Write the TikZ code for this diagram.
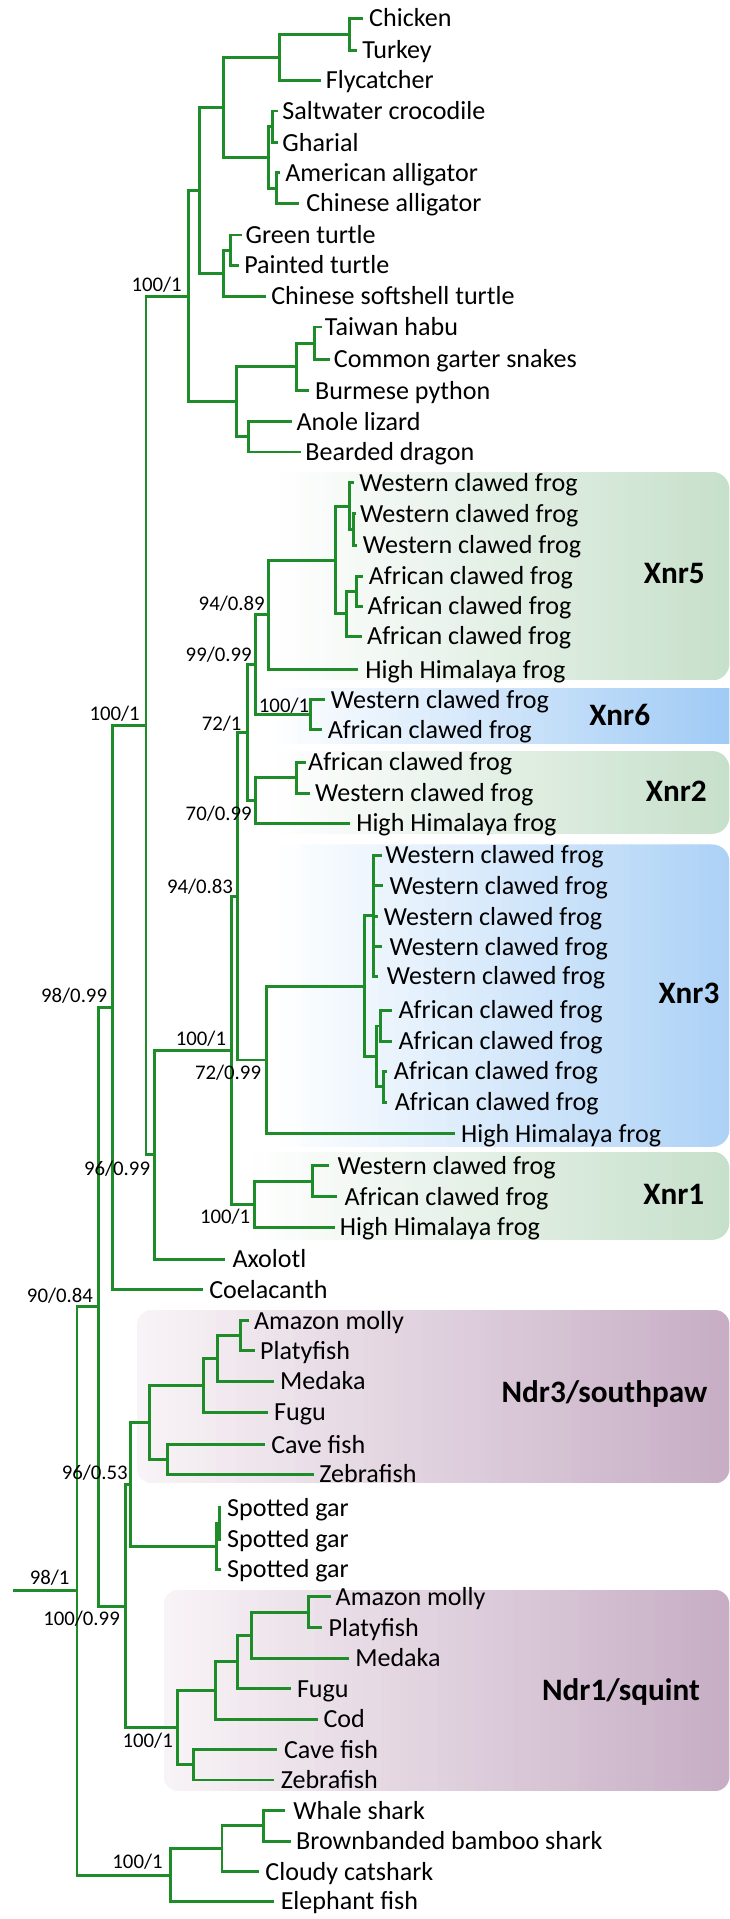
\documentclass[tikz,border=0pt]{standalone}
\usepackage{fontspec}
\setmainfont{Carlito}
\definecolor{brgreen}{RGB}{30,140,40}
\definecolor{boxgreen}{RGB}{199,224,203}
\definecolor{boxblueA}{RGB}{160,203,245}
\definecolor{boxblueB}{RGB}{173,210,246}
\definecolor{boxpurL}{RGB}{248,243,246}
\definecolor{boxpurR}{RGB}{199,174,197}
\newcommand\leafat[5]{\coordinate (#1) at (#2,#3); \node[leaftext] (#1t) at ({#4-0.8},{#3+6.9}) {#5};}
\newcommand\gradbox[7]{%
  \begin{scope}
  \clip[#7] (#1,#2) rectangle (#3,#4);
  \pgfmathsetmacro\stripw{(#3-#1)/60}%
  \foreach \i in {0,...,59}{%
    \pgfmathtruncatemacro\pct{round(100*\i/59)}%
    \fill[#6!\pct!#5] ({#1+\stripw*\i},#2) rectangle ({#1+\stripw*(\i+1)+0.9},#4);
  }
  \end{scope}}
\begin{document}
\begin{tikzpicture}[x=1pt,y=-1pt,
  br/.style={draw=brgreen,line width=2.4pt},
  leaftext/.style={anchor=base west,inner sep=0pt,font=\fontsize{21.3}{25}\selectfont},
  suplab/.style={anchor=base east,inner sep=0pt,font=\fontsize{17}{20}\selectfont},
  cladelab/.style={anchor=base east,inner sep=0pt,font=\fontsize{25.5}{30}\selectfont\bfseries}]
\useasboundingbox (0,0) rectangle (596,1568);
% clade boxes
\gradbox{222}{385.6}{596}{556}{white}{boxgreen}{rounded corners=14pt}
\gradbox{218}{562}{596}{608}{white}{boxblueA}{sharp corners}
\gradbox{218}{613.7}{596}{681.3}{white}{boxgreen}{rounded corners=14pt}
\gradbox{222}{690}{596}{937}{white}{boxblueB}{rounded corners=14pt}
\gradbox{200}{941}{596}{1013}{white}{boxgreen}{rounded corners=14pt}
\gradbox{112}{1070.4}{596}{1212}{boxpurL}{boxpurR}{rounded corners=12pt}
\gradbox{133.8}{1299}{596}{1463.5}{boxpurL}{boxpurR}{rounded corners=12pt}
% leaves
\leafat{l1}{296.6}{15.0}{302.3}{Chicken}
\leafat{l2}{291.7}{40.9}{296.6}{Turkey}
\leafat{l3}{262.3}{65.4}{266.9}{Flycatcher}
\leafat{l4}{226.8}{90.7}{231.4}{Saltwater crocodile}
\leafat{l5}{226.8}{116.5}{231.4}{Gharial}
\leafat{l6}{228.7}{141.2}{233.7}{American alligator}
\leafat{l7}{244}{166.2}{250.9}{Chinese alligator}
\leafat{l8}{197.5}{192}{201.3}{Green turtle}
\leafat{l9}{195.2}{216.8}{200.2}{Painted turtle}
\leafat{l10}{217.3}{242}{222.3}{Chinese softshell turtle}
\leafat{l11}{263}{267.2}{266.1}{Taiwan habu}
\leafat{l12}{270}{293.5}{273.4}{Common garter snakes}
\leafat{l13}{252.8}{319.2}{258.1}{Burmese python}
\leafat{l14}{238.3}{344.6}{242.9}{Anole lizard}
\leafat{l15}{245.9}{369.3}{250.1}{Bearded dragon}
\leafat{l16}{289.4}{394.6}{294.3}{Western clawed frog}
\leafat{l17}{291}{419.7}{294.9}{Western clawed frog}
\leafat{l18}{292}{445.5}{297.1}{Western clawed frog}
\leafat{l19}{296.5}{470.9}{302.0}{African clawed frog}
\leafat{l20}{296.5}{495.4}{300.9}{African clawed frog}
\leafat{l21}{295.7}{520}{300.6}{African clawed frog}
\leafat{l22}{292.9}{547.2}{299.2}{High Himalaya frog}
\leafat{l23}{265.4}{571.7}{270.9}{Western clawed frog}
\leafat{l24}{262.7}{596.2}{268.4}{African clawed frog}
\leafat{l25}{249.7}{622.7}{252.4}{African clawed frog}
\leafat{l26}{253.5}{648}{258.1}{Western clawed frog}
\leafat{l27}{285.9}{672.6}{291.7}{High Himalaya frog}
\leafat{l28}{312}{699}{315.5}{Western clawed frog}
\leafat{l29}{313}{723.6}{319}{Western clawed frog}
\leafat{l30}{309}{749}{314.3}{Western clawed frog}
\leafat{l31}{312}{773.5}{319}{Western clawed frog}
\leafat{l32}{309}{797.5}{316.7}{Western clawed frog}
\leafat{l33}{320.2}{825.7}{326.3}{African clawed frog}
\leafat{l34}{320.2}{851}{326.3}{African clawed frog}
\leafat{l35}{316}{875.5}{322.5}{African clawed frog}
\leafat{l36}{316}{900.6}{323.2}{African clawed frog}
\leafat{l37}{371.7}{926.5}{377.4}{High Himalaya frog}
\leafat{l38}{268.8}{952.4}{276.4}{Western clawed frog}
\leafat{l39}{275.3}{977.8}{282.1}{African clawed frog}
\leafat{l40}{273.7}{1002.6}{278.3}{High Himalaya frog}
\leafat{l41}{184.1}{1029}{190.6}{Axolotl}
\leafat{l42}{165.8}{1054}{171.6}{Coelacanth}
\leafat{l43}{203.2}{1079.1}{208.2}{Amazon molly}
\leafat{l44}{208.2}{1103.7}{213.1}{Platyfish}
\leafat{l45}{223.9}{1128.8}{229.5}{Medaka}
\leafat{l46}{219}{1154.1}{224.6}{Fugu}
\leafat{l47}{216.4}{1180.5}{222.3}{Cave fish}
\leafat{l48}{256.7}{1204.5}{261.6}{Zebrafish}
\leafat{l49}{180.3}{1231.8}{186.2}{Spotted gar}
\leafat{l50}{180.3}{1257.7}{186.2}{Spotted gar}
\leafat{l51}{180.3}{1282.2}{186.2}{Spotted gar}
\leafat{l52}{270.7}{1304.7}{274.9}{Amazon molly}
\leafat{l53}{263.5}{1329.9}{269.2}{Platyfish}
\leafat{l54}{285.2}{1354.9}{290.9}{Medaka}
\leafat{l55}{237.6}{1379.8}{243.3}{Fugu}
\leafat{l56}{259.7}{1404.8}{265}{Cod}
\leafat{l57}{226.2}{1429.7}{232.7}{Cave fish}
\leafat{l58}{223.6}{1454.4}{230}{Zebrafish}
\leafat{l59}{232.7}{1479.6}{240.3}{Whale shark}
\leafat{l60}{237.6}{1504.3}{242.6}{Brownbanded bamboo shark}
\leafat{l61}{211.8}{1529.5}{217.5}{Cloudy catshark}
\leafat{l62}{223.6}{1553.6}{230}{Elephant fish}
% internal nodes
\coordinate (nCT) at (285.2,27.95);
\coordinate (nBird) at (228,46.7);
\coordinate (nSG) at (222.3,103.6);
\coordinate (nAlli) at (225.7,153.7);
\coordinate (nCroc) at (219.2,128.65);
\coordinate (nArch) at (183,87.7);
\coordinate (nGP) at (188.7,204.4);
\coordinate (nTurt) at (183,223.2);
\coordinate (nArchelo) at (163.2,155.45);
\coordinate (nTC) at (256.6,280.35);
\coordinate (nSnake) at (242.1,299.8);
\coordinate (nAB) at (202.8,356.95);
\coordinate (nSquam) at (193.3,328.4);
\coordinate (nSaur) at (154.4,241.9);
\coordinate (nW23) at (288.9,432.6);
\coordinate (nW5) at (285.6,413.65);
\coordinate (nA12) at (291.6,483.15);
\coordinate (nA5) at (282.9,501.6);
\coordinate (nX5) at (273.9,457.6);
\coordinate (n9489) at (219.4,502.4);
\coordinate (nX6) at (254,583.95);
\coordinate (n9999) at (209,543.2);
\coordinate (nAW2) at (242.1,635.35);
\coordinate (nX2) at (208.9,654);
\coordinate (n721) at (202.1,598.6);
\coordinate (nW3) at (305.2,748.25);
\coordinate (nA12b) at (310.7,838.35);
\coordinate (nA34) at (313.4,888.05);
\coordinate (nA3) at (307.4,863.2);
\coordinate (nX3x) at (297.6,805.7);
\coordinate (nX3) at (218,866.1);
\coordinate (n9483) at (194.4,732.35);
\coordinate (nWA1) at (255.4,965.1);
\coordinate (nX1) at (207.8,983.85);
\coordinate (nAnura) at (189.5,858.1);
\coordinate (nAmph) at (126.6,943.55);
\coordinate (nTetra) at (119.3,592.7);
\coordinate (nSarco) at (92.3,823.35);
\coordinate (nAP3) at (196.7,1091.4);
\coordinate (nAPM3) at (178,1110.1);
\coordinate (nAPMF3) at (166.5,1132.1);
\coordinate (nCZ3) at (137,1192.5);
\coordinate (nNdr3) at (121.8,1162.3);
\coordinate (nG12) at (179,1244.75);
\coordinate (nGar) at (177,1263.5);
\coordinate (n9653) at (106.4,1212.9);
\coordinate (nAP1) at (251.7,1317.3);
\coordinate (nAPM1) at (205.3,1336.1);
\coordinate (nAPMF1) at (193.9,1357.95);
\coordinate (nAPMFC1) at (175.7,1381.4);
\coordinate (nCZ1) at (157.8,1442.05);
\coordinate (nNdr1) at (145.2,1411.7);
\coordinate (n10099) at (102.7,1312.3);
\coordinate (nOste) at (80.1,1067.8);
\coordinate (nWB) at (215.6,1491.95);
\coordinate (nWBC) at (181.4,1510.7);
\coordinate (nChond) at (139.5,1532.15);
\coordinate (nRoot) at (62.9,1299.95);
\coordinate (rootstub) at (10.7,1299.95);
% branches
\draw[br] (l1) -| (nCT) |- (l2);
\draw[br] (nCT) -| (nBird) |- (l3);
\draw[br] (l4) -| (nSG) |- (l5);
\draw[br] (l6) -| (nAlli) |- (l7);
\draw[br] (nSG) -| (nCroc) |- (nAlli);
\draw[br] (nBird) -| (nArch) |- (nCroc);
\draw[br] (l8) -| (nGP) |- (l9);
\draw[br] (nGP) -| (nTurt) |- (l10);
\draw[br] (nArch) -| (nArchelo) |- (nTurt);
\draw[br] (l11) -| (nTC) |- (l12);
\draw[br] (nTC) -| (nSnake) |- (l13);
\draw[br] (l14) -| (nAB) |- (l15);
\draw[br] (nSnake) -| (nSquam) |- (nAB);
\draw[br] (nArchelo) -| (nSaur) |- (nSquam);
\draw[br] (l17) -| (nW23) |- (l18);
\draw[br] (l16) -| (nW5) |- (nW23);
\draw[br] (l19) -| (nA12) |- (l20);
\draw[br] (nA12) -| (nA5) |- (l21);
\draw[br] (nW5) -| (nX5) |- (nA5);
\draw[br] (nX5) -| (n9489) |- (l22);
\draw[br] (l23) -| (nX6) |- (l24);
\draw[br] (n9489) -| (n9999) |- (nX6);
\draw[br] (l25) -| (nAW2) |- (l26);
\draw[br] (nAW2) -| (nX2) |- (l27);
\draw[br] (n9999) -| (n721) |- (nX2);
\draw[br] (l28) -| (nW3) |- (l32);
\draw[br] (nW3) |- (l29);
\draw[br] (nW3) |- (l30);
\draw[br] (nW3) |- (l31);
\draw[br] (l33) -| (nA12b) |- (l34);
\draw[br] (l35) -| (nA34) |- (l36);
\draw[br] (nA12b) -| (nA3) |- (nA34);
\draw[br] (nW3) -| (nX3x) |- (nA3);
\draw[br] (nX3x) -| (nX3) |- (l37);
\draw[br] (n721) -| (n9483) |- (nX3);
\draw[br] (l38) -| (nWA1) |- (l39);
\draw[br] (nWA1) -| (nX1) |- (l40);
\draw[br] (n9483) -| (nAnura) |- (nX1);
\draw[br] (nAnura) -| (nAmph) |- (l41);
\draw[br] (nSaur) -| (nTetra) |- (nAmph);
\draw[br] (nTetra) -| (nSarco) |- (l42);
\draw[br] (l43) -| (nAP3) |- (l44);
\draw[br] (nAP3) -| (nAPM3) |- (l45);
\draw[br] (nAPM3) -| (nAPMF3) |- (l46);
\draw[br] (l47) -| (nCZ3) |- (l48);
\draw[br] (nAPMF3) -| (nNdr3) |- (nCZ3);
\draw[br] (l49) -| (nG12) |- (l50);
\draw[br] (nG12) -| (nGar) |- (l51);
\draw[br] (nNdr3) -| (n9653) |- (nGar);
\draw[br] (l52) -| (nAP1) |- (l53);
\draw[br] (nAP1) -| (nAPM1) |- (l54);
\draw[br] (nAPM1) -| (nAPMF1) |- (l55);
\draw[br] (nAPMF1) -| (nAPMFC1) |- (l56);
\draw[br] (l57) -| (nCZ1) |- (l58);
\draw[br] (nAPMFC1) -| (nNdr1) |- (nCZ1);
\draw[br] (n9653) -| (n10099) |- (nNdr1);
\draw[br] (nSarco) -| (nOste) |- (n10099);
\draw[br] (l59) -| (nWB) |- (l60);
\draw[br] (nWB) -| (nWBC) |- (l61);
\draw[br] (nWBC) -| (nChond) |- (l62);
\draw[br] (nOste) -| (nRoot) |- (nChond);
\draw[br] (rootstub) -- (nRoot);
% support labels
\node[suplab] (sSaur) at (148.7,238.4) {100/1};
\node[suplab] (sTetra) at (114.4,588.6) {100/1};
\node[suplab] (s9489) at (216.5,498.6) {94/0.89};
\node[suplab] (s9999) at (205.9,540.8) {99/0.99};
\node[suplab] (sX6) at (252.8,581.8) {100/1};
\node[suplab] (s721) at (197.5,596.8) {72/1};
\node[suplab] (sX2) at (205.9,670.4) {70/0.99};
\node[suplab] (s9483) at (190.6,730.3) {94/0.83};
\node[suplab] (sSarco) at (87.7,818.8) {98/0.99};
\node[suplab] (sAnura) at (184.9,854.2) {100/1};
\node[suplab] (sX3) at (213.5,882.3) {72/0.99};
\node[suplab] (sAmph) at (122.8,960.4) {96/0.99};
\node[suplab] (sX1) at (204.7,1000) {100/1};
\node[suplab] (sOste) at (76.2,1064.1) {90/0.84};
\node[suplab] (s9653) at (104.6,1209) {96/0.53};
\node[suplab] (sRoot) at (57,1294.3) {98/1};
\node[suplab] (s10099) at (98.1,1328.4) {100/0.99};
\node[suplab] (sNdr1) at (141.4,1428.2) {100/1};
\node[suplab] (sChond) at (133.1,1527.1) {100/1};
% clade labels
\node[cladelab] (cX5) at (576,476.8) {Xnr5};
\node[cladelab] (cX6) at (531.4,592.8) {Xnr6};
\node[cladelab] (cX2) at (577.7,654.6) {Xnr2};
\node[cladelab] (cX3) at (588,820.2) {Xnr3};
\node[cladelab] (cX1) at (575.6,983.8) {Xnr1};
\node[cladelab] (cN3) at (578,1145.9) {Ndr3/southpaw};
\node[cladelab] (cN1) at (572,1389.8) {Ndr1/squint};
\end{tikzpicture}
\end{document}
